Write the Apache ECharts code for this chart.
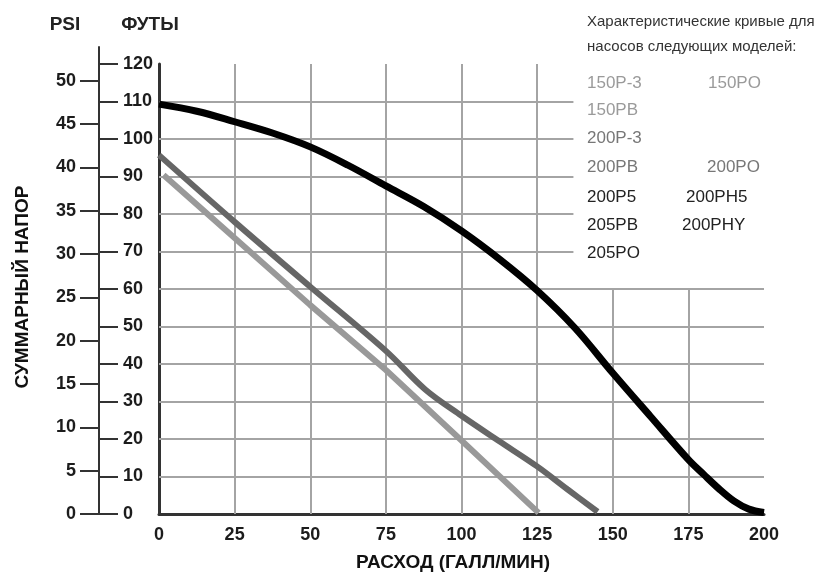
<!DOCTYPE html>
<html><head><meta charset="utf-8">
<script src="https://cdn.jsdelivr.net/npm/echarts@6/dist/echarts.min.js"></script>
<style>html,body{margin:0;padding:0;background:#fff}#c{width:822px;height:576px}</style>
</head><body><div id="c"></div>
<script>
// ---- data ----
const flowTicks = [0, 25, 50, 75, 100, 125, 150, 175, 200];
const feetTicks = [0, 10, 20, 30, 40, 50, 60, 70, 80, 90, 100, 110, 120];
const psiTicks = [0, 5, 10, 15, 20, 25, 30, 35, 40, 45, 50];

const blackFlow = [0, 12.5, 25, 37.5, 50, 62.5, 75, 87.5, 100, 112.5, 125, 137.5, 150, 162.5, 175, 180, 185, 190, 195, 200];
const blackHead = [109.3, 107.4, 104.6, 101.6, 97.9, 93, 87.5, 82, 75.5, 68, 59.6, 49.6, 37.6, 26, 14.5, 10.6, 6.8, 3.5, 1.3, 0.4];

const darkFlow = [0, 25, 50, 75, 88, 100, 112.5, 125, 135, 145];
const darkHead = [95.7, 77.9, 60.6, 43.5, 33.2, 26.2, 19.4, 12.7, 6.6, 0.6];

const lightFlow = [1.5, 25, 50, 75, 100, 125.5];
const lightHead = [90.4, 73.6, 55.7, 38.4, 19.6, 0.3];

const legendTitle = ['Характеристические кривые для', 'насосов следующих моделей:'];
const lightModels = ['150P-3', '150PO', '150PB'];
const midModels = ['200P-3', '200PB', '200PO'];
const darkModels = ['200P5', '200PH5', '205PB', '200PHY', '205PO'];

const xTitle = 'РАСХОД (ГАЛЛ/МИН)';
const yTitle = 'СУММАРНЫЙ НАПОР';
const psiTitle = 'PSI';
const feetTitle = 'ФУТЫ';
const FEET_PER_PSI = 2.31;

// ---- layout ----
const FONT = '"Liberation Sans", Arial, Helvetica, sans-serif';
const G = {left: 159, right: 58, top: 64, bottom: 62};
const psiTop = 47;
const plotH = 576 - G.top - G.bottom;
const pxPerFoot = plotH / 120;
const psiMax = (576 - psiTop - G.bottom) / (pxPerFoot * FEET_PER_PSI);

const gridColor = '#a4a4a4';
const segs = [];
flowTicks.forEach(f => {
  if (f === 0 || f === 200) return;
  segs.push([{coord: [f, 0]}, {coord: [f, f <= 125 ? 120 : 60]}]);
});
feetTicks.forEach(h => {
  if (h === 0 || h === 120) return;
  segs.push([{coord: [0, h]}, {coord: [h <= 60 ? 200 : 137, h]}]);
});

const zip = (a, b) => a.map((v, i) => [v, b[i]]);
const tickLabel = {fontFamily: FONT, fontWeight: 'bold', fontSize: 18, color: '#1c1c1c'};

const chart = echarts.init(document.getElementById('c'), null, {renderer: 'canvas'});
chart.setOption({
  animation: false,
  backgroundColor: '#fff',
  grid: [
    {left: G.left, right: G.right, top: G.top, bottom: G.bottom},
    {left: G.left, right: G.right, top: psiTop, bottom: G.bottom}
  ],
  xAxis: [
    {gridIndex: 0, type: 'value', min: 0, max: 200, interval: 25,
     axisLine: {onZero: false, lineStyle: {color: '#333', width: 3}},
     axisTick: {show: false}, splitLine: {show: false},
     axisLabel: Object.assign({margin: 12}, tickLabel)},
    {gridIndex: 1, type: 'value', min: 0, max: 200, show: false}
  ],
  yAxis: [
    {gridIndex: 0, type: 'value', min: 0, max: 120, interval: 10, position: 'left', offset: 60,
     axisLine: {show: false, onZero: false},
     axisTick: {show: true, inside: true, length: 19, lineStyle: {color: '#333', width: 2}},
     axisLabel: Object.assign({inside: true, margin: 24}, tickLabel),
     splitLine: {show: false}},
    {gridIndex: 0, type: 'value', min: 0, max: 120, interval: 10, position: 'left', offset: 0,
     axisLine: {show: true, onZero: false, lineStyle: {color: '#333', width: 3}},
     axisTick: {show: false}, axisLabel: {show: false}, splitLine: {show: false}},
    {gridIndex: 1, type: 'value', min: 0, max: psiMax, position: 'left', offset: 60,
     axisLine: {show: true, onZero: false, lineStyle: {color: '#333', width: 2}},
     axisTick: {show: true, length: 19, customValues: psiTicks, lineStyle: {color: '#333', width: 2}},
     axisLabel: Object.assign({margin: 23, customValues: psiTicks}, tickLabel),
     splitLine: {show: false}}
  ],
  series: [
    {type: 'line', xAxisIndex: 0, yAxisIndex: 0, data: [], z: 1, silent: true,
     markLine: {silent: true, symbol: ['none', 'none'], label: {show: false}, z: 1,
       lineStyle: {color: gridColor, width: 2, type: 'solid'}, emphasis: {disabled: true},
       data: segs}},
    {type: 'line', xAxisIndex: 0, yAxisIndex: 0, z: 10, data: zip(lightFlow, lightHead),
     showSymbol: false, smooth: false, lineStyle: {color: '#999', width: 6, cap: 'butt'}},
    {type: 'line', xAxisIndex: 0, yAxisIndex: 0, z: 11, data: zip(darkFlow, darkHead),
     showSymbol: false, smooth: 0.35, lineStyle: {color: '#666', width: 6, cap: 'butt'}},
    {type: 'line', xAxisIndex: 0, yAxisIndex: 0, z: 12, data: zip(blackFlow, blackHead),
     showSymbol: false, smooth: 0.35, lineStyle: {color: '#000', width: 7, cap: 'butt'}}
  ],
  graphic: [
    {type: 'text', x: 65, y: 25, style: {text: psiTitle, font: 'bold 19px ' + FONT, fill: '#222', textAlign: 'center', textVerticalAlign: 'middle'}},
    {type: 'text', x: 150, y: 25, style: {text: feetTitle, font: 'bold 19px ' + FONT, fill: '#222', textAlign: 'center', textVerticalAlign: 'middle'}},
    {type: 'text', x: 23, y: 287, rotation: Math.PI / 2, style: {text: yTitle, font: 'bold 19px ' + FONT, fill: '#111', textAlign: 'center', textVerticalAlign: 'middle'}},
    {type: 'text', x: 453, y: 563, style: {text: xTitle, font: 'bold 19px ' + FONT, fill: '#111', textAlign: 'center', textVerticalAlign: 'middle'}},
    {type: 'text', x: 587, y: 22, style: {text: legendTitle[0], font: '15px ' + FONT, fill: '#333', textAlign: 'left', textVerticalAlign: 'middle'}},
    {type: 'text', x: 587, y: 47, style: {text: legendTitle[1], font: '15px ' + FONT, fill: '#333', textAlign: 'left', textVerticalAlign: 'middle'}},
    {type: 'text', x: 587, y: 83, style: {text: lightModels[0], font: '17px ' + FONT, fill: '#9a9a9a', textVerticalAlign: 'middle'}},
    {type: 'text', x: 708, y: 83, style: {text: lightModels[1], font: '17px ' + FONT, fill: '#9a9a9a', textVerticalAlign: 'middle'}},
    {type: 'text', x: 587, y: 110, style: {text: lightModels[2], font: '17px ' + FONT, fill: '#9a9a9a', textVerticalAlign: 'middle'}},
    {type: 'text', x: 587, y: 138, style: {text: midModels[0], font: '17px ' + FONT, fill: '#777', textVerticalAlign: 'middle'}},
    {type: 'text', x: 587, y: 167, style: {text: midModels[1], font: '17px ' + FONT, fill: '#777', textVerticalAlign: 'middle'}},
    {type: 'text', x: 707, y: 167, style: {text: midModels[2], font: '17px ' + FONT, fill: '#777', textVerticalAlign: 'middle'}},
    {type: 'text', x: 587, y: 197, style: {text: darkModels[0], font: '17px ' + FONT, fill: '#222', textVerticalAlign: 'middle'}},
    {type: 'text', x: 686, y: 197, style: {text: darkModels[1], font: '17px ' + FONT, fill: '#222', textVerticalAlign: 'middle'}},
    {type: 'text', x: 587, y: 225, style: {text: darkModels[2], font: '17px ' + FONT, fill: '#222', textVerticalAlign: 'middle'}},
    {type: 'text', x: 682, y: 225, style: {text: darkModels[3], font: '17px ' + FONT, fill: '#222', textVerticalAlign: 'middle'}},
    {type: 'text', x: 587, y: 253, style: {text: darkModels[4], font: '17px ' + FONT, fill: '#222', textVerticalAlign: 'middle'}}
  ]
});
</script></body></html>
